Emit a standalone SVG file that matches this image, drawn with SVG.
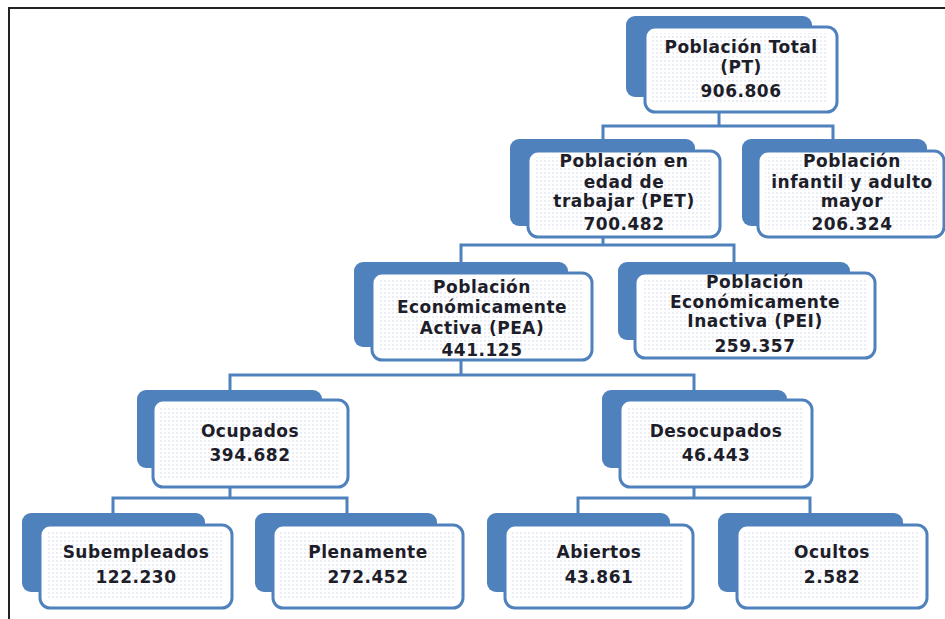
<svg xmlns="http://www.w3.org/2000/svg" width="945" height="619" viewBox="0 0 945 619">
<style>
.back{fill:#4f81bd}
.front{fill:#ffffff;stroke:#4f81bd;stroke-width:3}
.tex{fill:url(#dots)}
.conn{fill:none;stroke:#4f81bd;stroke-width:3}
.frame{fill:none;stroke:#222;stroke-width:2}
text{font-family:"DejaVu Sans","Liberation Sans",sans-serif;font-weight:bold;font-size:17px;fill:#1e1e2a;text-anchor:middle;letter-spacing:0.5px}
</style>
<defs>
<pattern id="dots" width="4" height="4" patternUnits="userSpaceOnUse">
<rect x="0" y="0" width="2" height="2" fill="#eaedf3"/>
</pattern>
</defs>
<path class="frame" d="M9,619 V8 H945"/>
<g id="connectors">
<path class="conn" d="M719,112 V126 M603,139 V126 H833 V139"/>
<path class="conn" d="M603,237 V245 M461,262 V245 H734 V262"/>
<path class="conn" d="M461,360 V375 M230,390 V375 H694 V390"/>
<path class="conn" d="M230,487 V498 M113,513 V498 H347 V513"/>
<path class="conn" d="M694,487 V498 M578,513 V498 H810 V513"/>
</g>
<g id="pt">
<rect class="back" x="626" y="16" width="186" height="81" rx="9"/>
<rect class="front" x="645" y="27" width="192" height="85" rx="10"/>
<rect class="tex" x="652" y="33" width="176" height="70"/>
<text x="741" y="53">Población Total</text>
<text x="741" y="73">(PT)</text>
<text x="741" y="97">906.806</text>
</g>
<g id="pet">
<rect class="back" x="510" y="139" width="185" height="87" rx="9"/>
<rect class="front" x="528" y="151" width="192" height="86" rx="10"/>
<rect class="tex" x="535" y="157" width="176" height="72"/>
<text x="624" y="167">Población en</text>
<text x="624" y="188">edad de</text>
<text x="624" y="207">trabajar (PET)</text>
<text x="624" y="230">700.482</text>
</g>
<g id="infantil">
<rect class="back" x="742" y="139" width="185" height="87" rx="9"/>
<rect class="front" x="758" y="151" width="186" height="86" rx="10"/>
<rect class="tex" x="765" y="157" width="172" height="72"/>
<text x="852" y="167">Población</text>
<text x="852" y="188">infantil y adulto</text>
<text x="852" y="207">mayor</text>
<text x="852" y="230">206.324</text>
</g>
<g id="pea">
<rect class="back" x="354" y="262" width="214" height="85" rx="9"/>
<rect class="front" x="372" y="273" width="220" height="87" rx="10"/>
<rect class="tex" x="379" y="279" width="204" height="73"/>
<text x="482" y="293">Población</text>
<text x="482" y="313">Económicamente</text>
<text x="482" y="334">Activa (PEA)</text>
<text x="482" y="356">441.125</text>
</g>
<g id="pei">
<rect class="back" x="618" y="262" width="232" height="78" rx="9"/>
<rect class="front" x="635" y="273" width="240" height="85" rx="10"/>
<rect class="tex" x="642" y="279" width="224" height="71"/>
<text x="755" y="288">Población</text>
<text x="755" y="308">Económicamente</text>
<text x="755" y="327">Inactiva (PEI)</text>
<text x="755" y="352">259.357</text>
</g>
<g id="ocupados">
<rect class="back" x="137" y="390" width="185" height="78" rx="9"/>
<rect class="front" x="153" y="400" width="195" height="87" rx="10"/>
<rect class="tex" x="160" y="406" width="180" height="73"/>
<text x="250" y="437">Ocupados</text>
<text x="250" y="461">394.682</text>
</g>
<g id="desocupados">
<rect class="back" x="602" y="390" width="185" height="78" rx="9"/>
<rect class="front" x="620" y="400" width="192" height="87" rx="10"/>
<rect class="tex" x="627" y="406" width="177" height="73"/>
<text x="716" y="437">Desocupados</text>
<text x="716" y="461">46.443</text>
</g>
<g id="subempleados">
<rect class="back" x="22" y="513" width="183" height="79" rx="9"/>
<rect class="front" x="40" y="525" width="192" height="83" rx="10"/>
<rect class="tex" x="47" y="531" width="176" height="69"/>
<text x="136" y="558">Subempleados</text>
<text x="136" y="583">122.230</text>
</g>
<g id="plenamente">
<rect class="back" x="255" y="513" width="182" height="79" rx="9"/>
<rect class="front" x="273" y="525" width="190" height="83" rx="10"/>
<rect class="tex" x="280" y="531" width="174" height="69"/>
<text x="368" y="558">Plenamente</text>
<text x="368" y="583">272.452</text>
</g>
<g id="abiertos">
<rect class="back" x="487" y="513" width="183" height="79" rx="9"/>
<rect class="front" x="505" y="525" width="188" height="83" rx="10"/>
<rect class="tex" x="512" y="531" width="172" height="69"/>
<text x="599" y="558">Abiertos</text>
<text x="599" y="583">43.861</text>
</g>
<g id="ocultos">
<rect class="back" x="718" y="513" width="185" height="79" rx="9"/>
<rect class="front" x="737" y="525" width="190" height="83" rx="10"/>
<rect class="tex" x="744" y="531" width="174" height="69"/>
<text x="832" y="558">Ocultos</text>
<text x="832" y="583">2.582</text>
</g>
</svg>
